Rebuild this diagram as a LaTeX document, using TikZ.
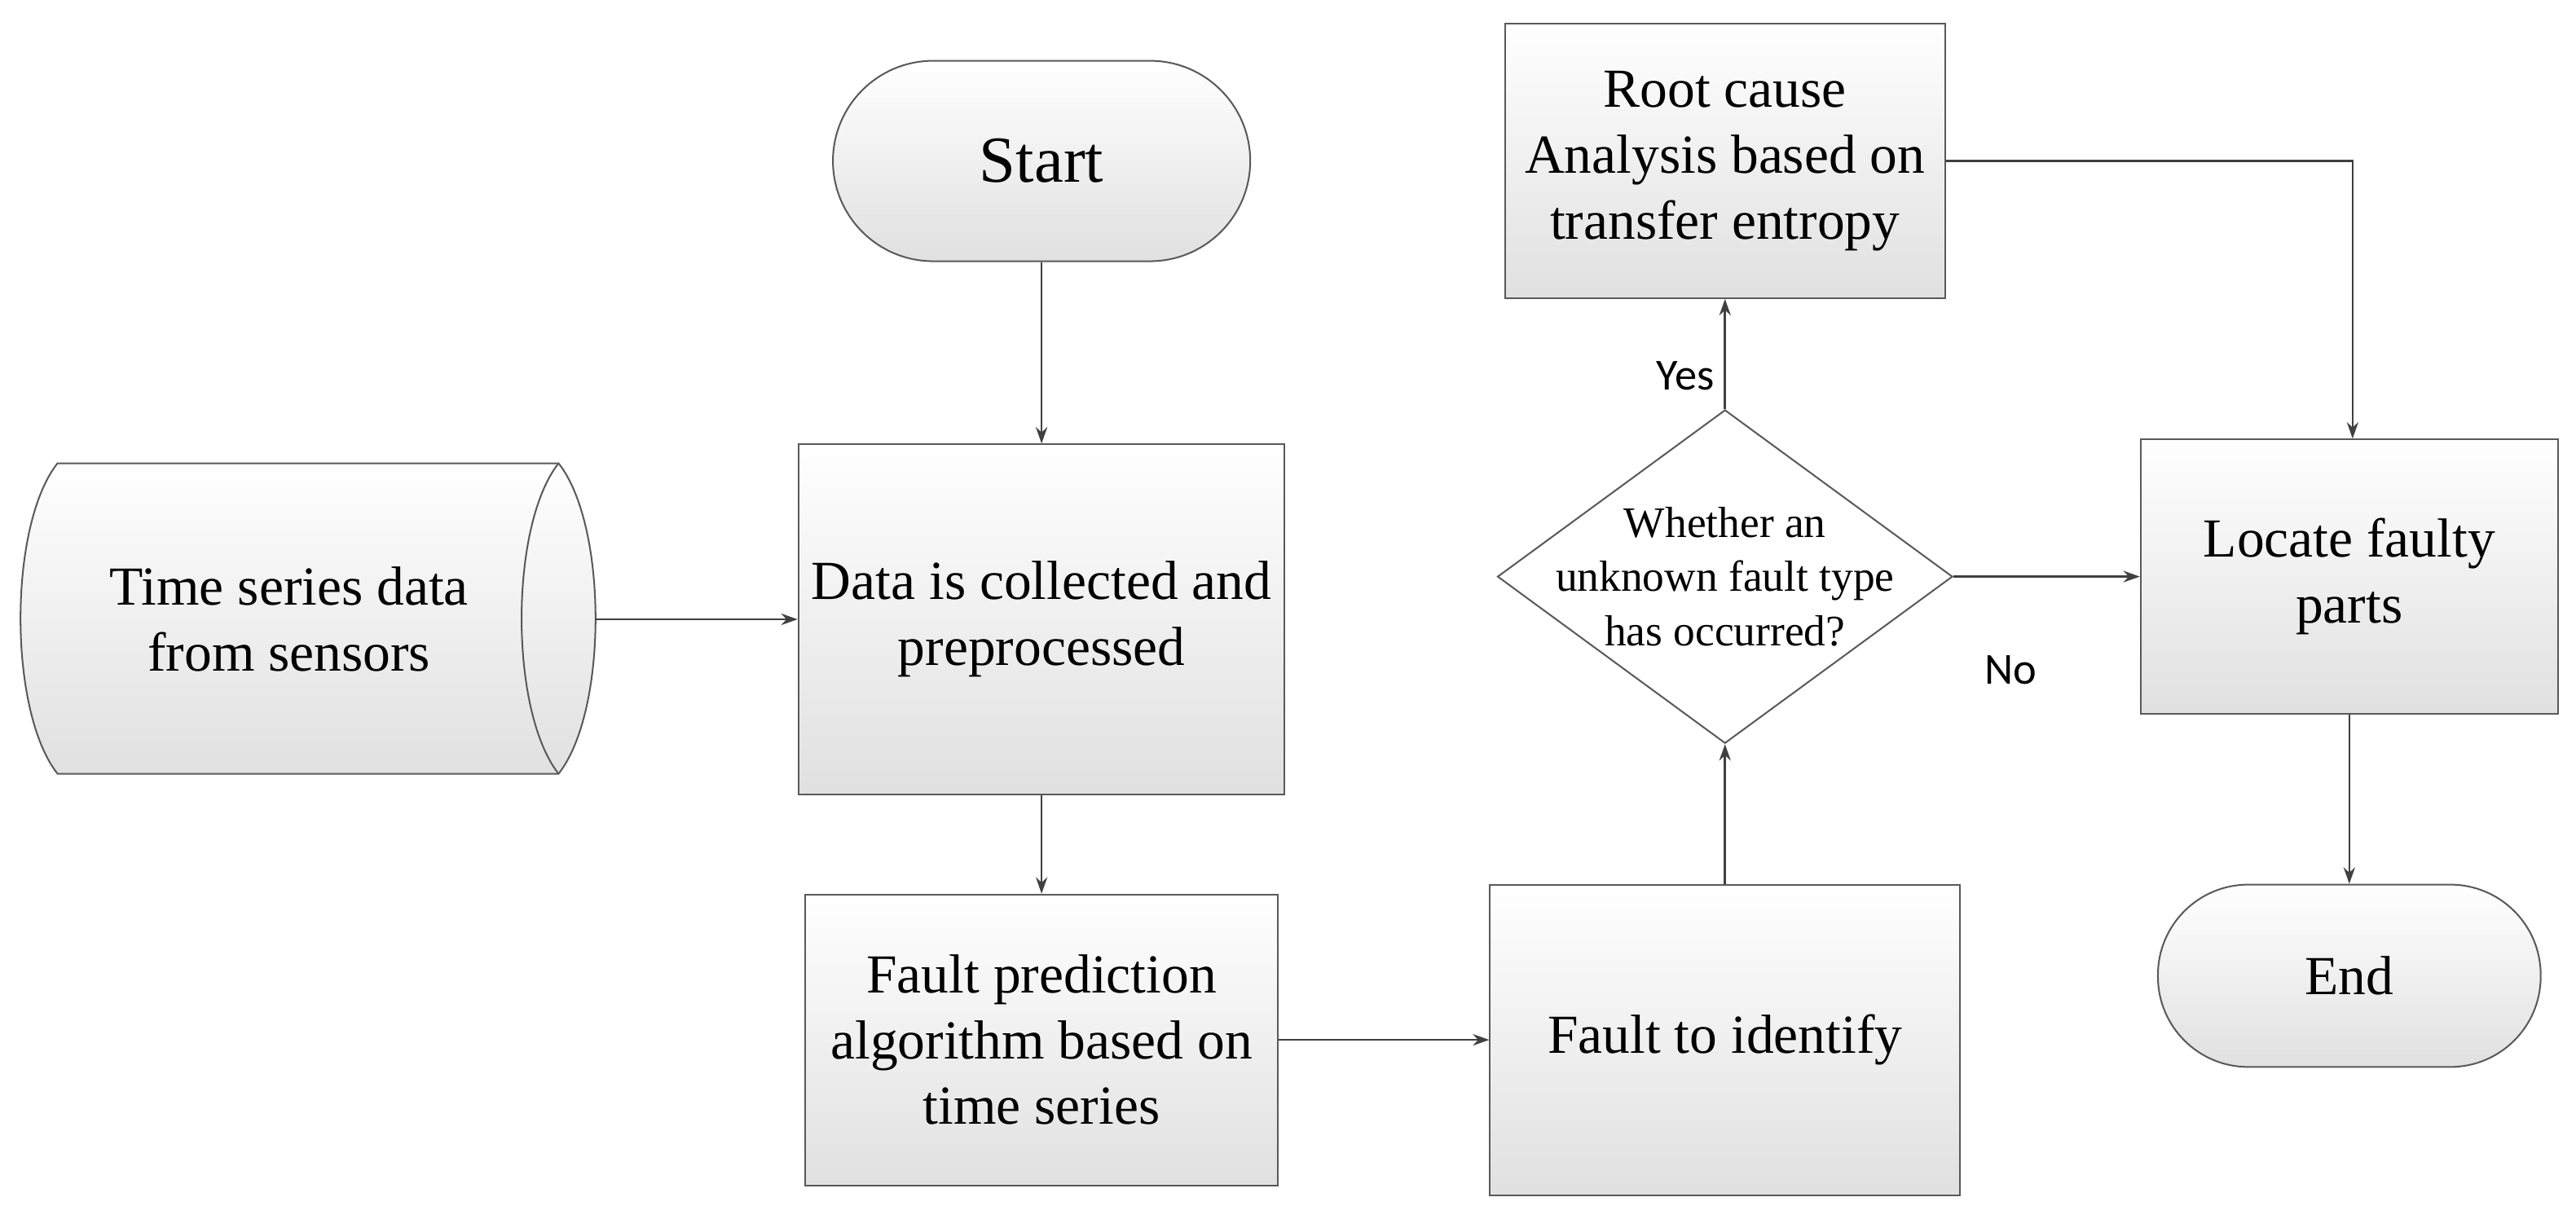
\documentclass[tikz,border=0pt]{standalone}
\usepackage{fontspec}
\setmainfont{Liberation Serif}
\newfontfamily\yesno{Carlito}
\usetikzlibrary{shapes.geometric,arrows.meta}
\begin{document}
\begin{tikzpicture}[x=1pt,y=-1pt,line width=1pt,
  box/.style={draw=black!65,top color=white,bottom color=black!12,align=center,font=\fontsize{33.5}{40}\selectfont,inner sep=0},
  arr/.style={draw=black!75,line width=1.3pt,-{Stealth[length=10pt,width=7pt]}},
  lab/.style={font=\yesno\fontsize{27}{30}\selectfont}]
\useasboundingbox (0,0) rectangle (1568,734);
\node[box,rounded corners=61pt,minimum width=254pt,minimum height=122pt,font=\fontsize{40}{40}\selectfont] (start) at (634,98) {Start};
\filldraw[draw=black!65,top color=white,bottom color=black!12] (35,282) -- (340,282) .. controls (370,320) and (370,433) .. (340,471) -- (35,471) .. controls (5,433) and (5,320) .. (35,282) -- cycle;
\draw[black!65] (340,282) .. controls (310,320) and (310,433) .. (340,471);
\node[align=center,font=\fontsize{33.5}{40}\selectfont] (ts) at (176,377) {Time series data\\from sensors};
\coordinate (tsr) at (362,377);
\node[box,minimum width=296pt,minimum height=213pt] (data) at (634,377) {Data is collected and\\preprocessed};
\node[box,minimum width=288pt,minimum height=177pt] (pred) at (634,633) {Fault prediction\\algorithm based on\\time series};
\node[box,minimum width=286pt,minimum height=189pt] (ident) at (1050,633) {Fault to identify};
\node[diamond,draw=black!65,fill=white,minimum width=277pt,minimum height=203pt,aspect=1.36,inner sep=0] (dec) at (1050,351) {};
\node[align=center,font=\fontsize{26.5}{33}\selectfont] at (1050,351) {Whether an\\unknown fault type\\has occurred?};
\node[box,minimum width=268pt,minimum height=167pt] (root) at (1050,98) {Root cause\\Analysis based on\\transfer entropy};
\node[box,minimum width=254pt,minimum height=167pt] (loc) at (1430,351) {Locate faulty\\parts};
\node[box,rounded corners=55pt,minimum width=233pt,minimum height=111pt] (end) at (1430,594) {End};
\draw[arr] (start) -- (data);
\draw[arr] (tsr) -- (data.west|-tsr);
\draw[arr] (data) -- (pred);
\draw[arr] (pred) -- (ident);
\draw[arr] (ident) -- (dec);
\draw[arr] (dec) -- (root);
\draw[arr] (dec) -- (loc);
\draw[arr] (root.east) -- (1432,98) -- (loc.north-|1432,0);
\draw[arr] (loc) -- (end);
\node[lab] at (1026,229) {Yes};
\node[lab] at (1224,408) {No};
\end{tikzpicture}
\end{document}
